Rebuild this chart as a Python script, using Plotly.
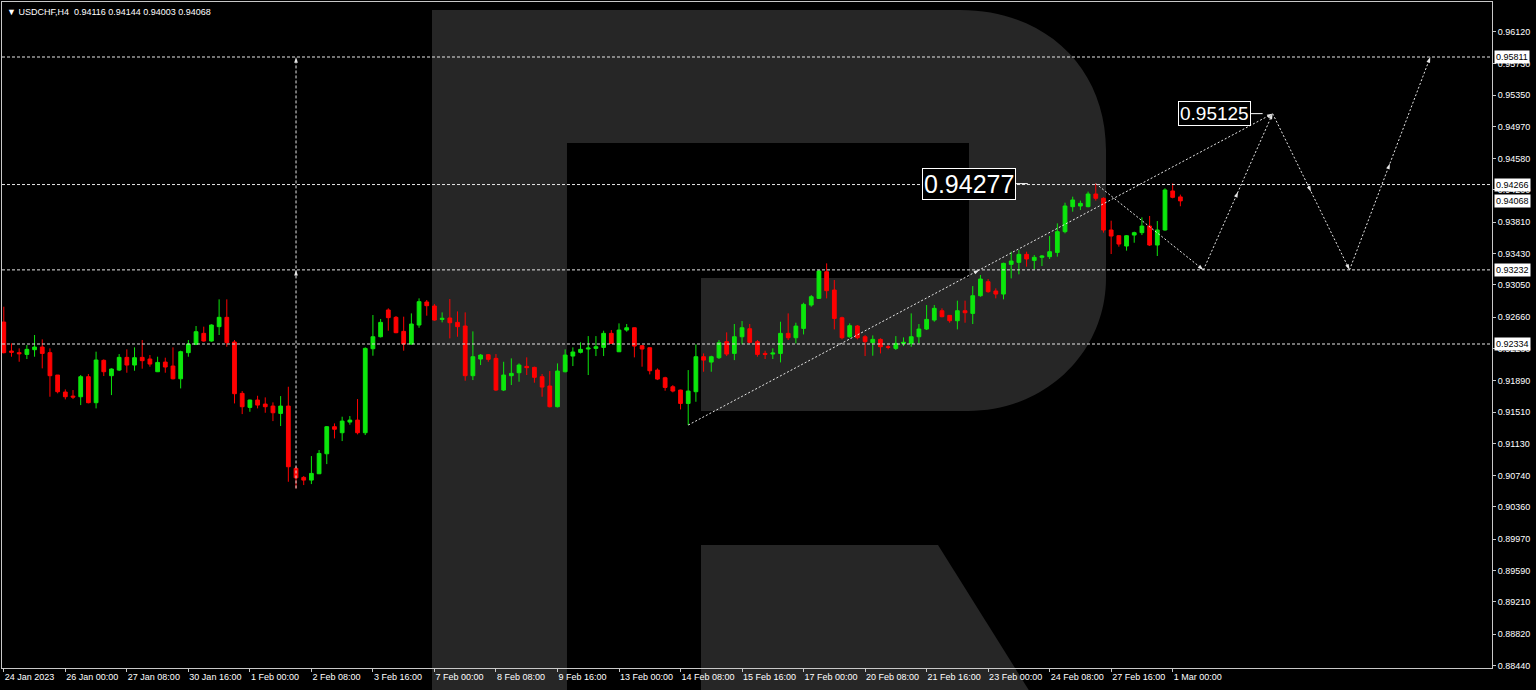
import plotly.graph_objects as go

# ---------------- data (USDCHF H4) ----------------
open_ = [0.92600, 0.92249, 0.92229, 0.92208, 0.92265, 0.92297, 0.92229, 0.91958, 0.91752, 0.91703,
         0.91695, 0.91938, 0.91623, 0.92136, 0.91950, 0.92018, 0.92172, 0.92079, 0.92172, 0.92152,
         0.91998, 0.92115, 0.92067, 0.91913, 0.92229, 0.92329, 0.92463, 0.92370, 0.92544, 0.92657,
         0.92358, 0.91736, 0.91566, 0.91655, 0.91606, 0.91582, 0.91493, 0.91582, 0.90827, 0.90718,
         0.90685, 0.90762, 0.91004, 0.91332, 0.91259, 0.91388, 0.91412, 0.91259, 0.92277, 0.92422,
         0.92746, 0.92657, 0.92487, 0.92333, 0.92564, 0.92843, 0.92794, 0.92632, 0.92649, 0.92596,
         0.92552, 0.91950, 0.92152, 0.92204, 0.92160, 0.91776, 0.91950, 0.91986, 0.92063, 0.92051,
         0.91938, 0.91825, 0.91574, 0.91998, 0.92188, 0.92233, 0.92273, 0.92281, 0.92293, 0.92463,
         0.92240, 0.92503, 0.92531, 0.92313, 0.92289, 0.92018, 0.91925, 0.91816, 0.91776, 0.91614,
         0.91756, 0.92180, 0.92115, 0.92168, 0.92362, 0.92220, 0.92422, 0.92519, 0.92362, 0.92220,
         0.92212, 0.92220, 0.92463, 0.92410, 0.92523, 0.92806, 0.92887, 0.93210, 0.92988, 0.92652,
         0.92422, 0.92552, 0.92422, 0.92349, 0.92390, 0.92301, 0.92281, 0.92341, 0.92341, 0.92422,
         0.92515, 0.92624, 0.92737, 0.92681, 0.92616, 0.92737, 0.92705, 0.92919, 0.93089, 0.92976,
         0.92939, 0.93299, 0.93323, 0.93420, 0.93347, 0.93384, 0.93392, 0.93444, 0.93695, 0.93998,
         0.94006, 0.93998, 0.94151, 0.94099, 0.93715, 0.93646, 0.93521, 0.93654, 0.93683, 0.93763,
         0.93533, 0.93715, 0.94188, 0.94116]
high = [0.92786, 0.92342, 0.92281, 0.92321, 0.92443, 0.92390, 0.92281, 0.91958, 0.91784, 0.91776,
        0.91958, 0.91970, 0.92241, 0.92148, 0.92039, 0.92212, 0.92269, 0.92293, 0.92382, 0.92200,
        0.92180, 0.92168, 0.92293, 0.92253, 0.92382, 0.92552, 0.92544, 0.92572, 0.92875, 0.92875,
        0.92382, 0.91764, 0.91660, 0.91707, 0.91687, 0.91627, 0.91703, 0.91816, 0.90847, 0.90734,
        0.90976, 0.91049, 0.91340, 0.91372, 0.91453, 0.91461, 0.91667, 0.92293, 0.92685, 0.92637,
        0.92766, 0.92673, 0.92665, 0.92705, 0.92887, 0.92867, 0.92818, 0.92717, 0.92879, 0.92729,
        0.92717, 0.92487, 0.92212, 0.92212, 0.92212, 0.92119, 0.92160, 0.92099, 0.92172, 0.92059,
        0.91970, 0.92006, 0.92099, 0.92269, 0.92293, 0.92354, 0.92430, 0.92430, 0.92495, 0.92503,
        0.92584, 0.92576, 0.92535, 0.92321, 0.92293, 0.92038, 0.91937, 0.91836, 0.91780, 0.92018,
        0.92329, 0.92220, 0.92192, 0.92382, 0.92475, 0.92576, 0.92612, 0.92576, 0.92382, 0.92253,
        0.92281, 0.92604, 0.92705, 0.92592, 0.92834, 0.92927, 0.93230, 0.93311, 0.93109, 0.92665,
        0.92584, 0.92564, 0.92442, 0.92438, 0.92402, 0.92321, 0.92430, 0.92414, 0.92705, 0.92576,
        0.92806, 0.92806, 0.92766, 0.92685, 0.92859, 0.92859, 0.93036, 0.93170, 0.93121, 0.93008,
        0.93319, 0.93452, 0.93473, 0.93452, 0.93412, 0.93412, 0.93642, 0.93796, 0.94046, 0.94119,
        0.94071, 0.94180, 0.94277, 0.94111, 0.93828, 0.93654, 0.93654, 0.93695, 0.93868, 0.93885,
        0.93824, 0.94220, 0.94281, 0.94144]
low = [0.92220, 0.92180, 0.92119, 0.92152, 0.92180, 0.92039, 0.91695, 0.91736, 0.91663, 0.91667,
       0.91594, 0.91615, 0.91554, 0.91946, 0.91715, 0.92006, 0.91986, 0.92010, 0.92035, 0.92059,
       0.91994, 0.91986, 0.91905, 0.91796, 0.92180, 0.92321, 0.92362, 0.92362, 0.92443, 0.92301,
       0.91614, 0.91485, 0.91513, 0.91554, 0.91501, 0.91400, 0.91340, 0.90665, 0.90584, 0.90625,
       0.90637, 0.90758, 0.90879, 0.91190, 0.91158, 0.91356, 0.91239, 0.91231, 0.92192, 0.92414,
       0.92495, 0.92465, 0.92253, 0.92325, 0.92531, 0.92677, 0.92616, 0.92596, 0.92402, 0.92422,
       0.91889, 0.91897, 0.92079, 0.92119, 0.91764, 0.91764, 0.91837, 0.91877, 0.91958, 0.91865,
       0.91695, 0.91566, 0.91566, 0.91990, 0.92067, 0.92220, 0.91958, 0.92188, 0.92188, 0.92335,
       0.92236, 0.92483, 0.92172, 0.92059, 0.91966, 0.91897, 0.91768, 0.91748, 0.91541, 0.91352,
       0.91634, 0.91998, 0.91998, 0.92152, 0.92188, 0.92139, 0.92329, 0.92341, 0.92180, 0.92152,
       0.92152, 0.92111, 0.92382, 0.92341, 0.92450, 0.92786, 0.92879, 0.92887, 0.92511, 0.92390,
       0.92410, 0.92390, 0.92188, 0.92192, 0.92220, 0.92269, 0.92261, 0.92309, 0.92301, 0.92341,
       0.92503, 0.92604, 0.92657, 0.92592, 0.92511, 0.92592, 0.92576, 0.92907, 0.92955, 0.92887,
       0.92875, 0.93129, 0.93178, 0.93271, 0.93238, 0.93279, 0.93364, 0.93392, 0.93675, 0.93937,
       0.93957, 0.93990, 0.94071, 0.93683, 0.93424, 0.93513, 0.93465, 0.93561, 0.93654, 0.93521,
       0.93400, 0.93707, 0.94099, 0.94003]
close = [0.92229, 0.92233, 0.92216, 0.92269, 0.92297, 0.92220, 0.91950, 0.91756, 0.91695, 0.91691,
         0.91938, 0.91623, 0.92140, 0.91998, 0.92031, 0.92172, 0.92079, 0.92168, 0.92132, 0.92091,
         0.92111, 0.92055, 0.91913, 0.92241, 0.92333, 0.92483, 0.92370, 0.92564, 0.92657, 0.92350,
         0.91732, 0.91574, 0.91655, 0.91594, 0.91574, 0.91501, 0.91582, 0.90847, 0.90713, 0.90685,
         0.90766, 0.91008, 0.91332, 0.91301, 0.91400, 0.91412, 0.91259, 0.92281, 0.92422, 0.92596,
         0.92653, 0.92471, 0.92333, 0.92576, 0.92847, 0.92798, 0.92624, 0.92645, 0.92592, 0.92544,
         0.91950, 0.92180, 0.92200, 0.92148, 0.91776, 0.91958, 0.91978, 0.92079, 0.92047, 0.91930,
         0.91812, 0.91574, 0.92006, 0.92200, 0.92237, 0.92269, 0.92285, 0.92301, 0.92463, 0.92341,
         0.92503, 0.92531, 0.92309, 0.92273, 0.92010, 0.91909, 0.91808, 0.91764, 0.91614, 0.91764,
         0.92180, 0.92139, 0.92180, 0.92349, 0.92212, 0.92422, 0.92531, 0.92354, 0.92208, 0.92208,
         0.92224, 0.92463, 0.92410, 0.92551, 0.92814, 0.92907, 0.93218, 0.92980, 0.92644, 0.92410,
         0.92556, 0.92410, 0.92362, 0.92390, 0.92301, 0.92293, 0.92341, 0.92354, 0.92422, 0.92515,
         0.92632, 0.92766, 0.92665, 0.92616, 0.92737, 0.92713, 0.92919, 0.93121, 0.92968, 0.92939,
         0.93311, 0.93339, 0.93420, 0.93364, 0.93384, 0.93400, 0.93452, 0.93695, 0.94006, 0.94079,
         0.94038, 0.94151, 0.94099, 0.93715, 0.93642, 0.93545, 0.93646, 0.93683, 0.93763, 0.93533,
         0.93715, 0.94200, 0.94111, 0.94068]

x_tick_labels = ["24 Jan 2023", "26 Jan 00:00", "27 Jan 08:00", "30 Jan 16:00", "1 Feb 00:00",
                 "2 Feb 08:00", "3 Feb 16:00", "7 Feb 00:00", "8 Feb 08:00", "9 Feb 16:00",
                 "13 Feb 00:00", "14 Feb 08:00", "15 Feb 16:00", "17 Feb 00:00", "20 Feb 08:00",
                 "21 Feb 16:00", "23 Feb 00:00", "24 Feb 08:00", "27 Feb 16:00", "1 Mar 00:00"]
bars_per_tick = 8

y_ticks = [0.96120, 0.95730, 0.95350, 0.94970, 0.94580, 0.94200, 0.93810, 0.93430, 0.93050,
           0.92660, 0.92280, 0.91890, 0.91510, 0.91130, 0.90740, 0.90360, 0.89970, 0.89590,
           0.89210, 0.88820, 0.88440]

levels = [0.95811, 0.94266, 0.93232, 0.92334]
current_price = 0.94068

# forecast drawing (bar index, price)
vert_x = [38, 38]
vert_y = [0.90584, 0.95811]
trend_x = [89, 165]
trend_y = [0.91352, 0.95125]
zig_x = [142, 156, 165, 175, 185.5]
zig_y = [0.94277, 0.93232, 0.95125, 0.93232, 0.95811]
label_peak = 0.94277
label_target = 0.95125

title_text = "▼ USDCHF,H4  0.94116 0.94144 0.94003 0.94068"

# ---------------- figure ----------------
W, H = 1536, 690
ML, MR, MT, MB = 2, 44, 2, 22
PW, PH = W - ML - MR, H - MT - MB

UP = "#0ce60c"
DN = "#ff0000"
WH = "#e6e6e6"
FONT = "Liberation Sans"

xs = list(range(len(open_)))

fig = go.Figure()

fig.add_trace(go.Candlestick(
    x=xs, open=open_, high=high, low=low, close=close,
    increasing=dict(line=dict(color=UP, width=1), fillcolor=UP),
    decreasing=dict(line=dict(color=DN, width=1), fillcolor=DN),
    whiskerwidth=0, showlegend=False, hoverinfo="skip"))

arrow_marker = dict(symbol="arrow", size=6, angleref="previous", color=WH)
dash_style = dict(color=WH, width=1, dash="2px,2px")


def with_mid(xv, yv, level=None):
    """Insert a mid-segment point (for MT4-style arrow marks) on each segment."""
    ox, oy = [xv[0]], [yv[0]]
    for k in range(1, len(xv)):
        x0, y0, x1, y1 = xv[k - 1], yv[k - 1], xv[k], yv[k]
        if level is not None and min(y0, y1) < level < max(y0, y1):
            t = (level - y0) / (y1 - y0)
        else:
            t = 0.5
        ox += [x0 + t * (x1 - x0), x1]
        oy += [y0 + t * (y1 - y0), y1]
    return ox, oy


vx, vy = with_mid(vert_x, vert_y, levels[2])
fig.add_trace(go.Scatter(x=vx, y=vy, mode="lines+markers", line=dict(color=WH, width=1, dash="3px,2px"),
                         marker=arrow_marker, showlegend=False, hoverinfo="skip"))
tx, ty = with_mid(trend_x, trend_y, levels[2])
fig.add_trace(go.Scatter(x=tx, y=ty, mode="lines+markers", line=dash_style,
                         marker=arrow_marker, showlegend=False, hoverinfo="skip"))
zx, zy = with_mid(zig_x[1:], zig_y[1:])
fig.add_trace(go.Scatter(x=zig_x[:2], y=zig_y[:2], mode="lines+markers", line=dash_style,
                         marker=arrow_marker, showlegend=False, hoverinfo="skip"))
fig.add_trace(go.Scatter(x=zx, y=zy, mode="lines+markers", line=dash_style,
                         marker=arrow_marker, showlegend=False, hoverinfo="skip"))

# horizontal levels
for lv in levels:
    fig.add_hline(y=lv, line=dict(color=WH, width=1, dash="3px,2px"), layer="above")

# background logo (decorative), pixel -> paper helpers
def px(xp):
    return (xp - ML) / PW

def py(yp):
    return (MT + PH - yp) / PH

def path(points):
    s = ""
    for cmd, pts in points:
        s += cmd + " ".join(f"{px(a):.5f},{py(b):.5f}" for a, b in pts) + " "
    return s + "Z"

logo = "#262626"
body = path([("M", [(432, 10)]), ("L", [(960, 10)]),
             ("C", [(1048, 10), (1106, 70), (1106, 150)]),
             ("L", [(1106, 278)]),
             ("C", [(1106, 352), (1046, 411), (968, 411)]),
             ("L", [(701, 411)]), ("L", [(701, 278)]), ("L", [(969, 278)]),
             ("L", [(969, 143)]), ("L", [(567, 143)]), ("L", [(567, 700)]), ("L", [(432, 700)])])
leg = path([("M", [(701, 545)]), ("L", [(938, 545)]), ("L", [(1035, 700)]), ("L", [(701, 700)])])
for p in (body, leg):
    fig.add_shape(type="path", path=p, xref="paper", yref="paper",
                  fillcolor=logo, line=dict(width=0), layer="below")

# price labels on the chart
fig.add_annotation(x=zig_x[0], y=label_peak, xref="x", yref="y", text=f"{label_peak:.5f}",
                   showarrow=False, xanchor="right", yanchor="middle", xshift=-80,
                   font=dict(family=FONT, size=25, color="white"),
                   bgcolor="black", bordercolor="white", borderwidth=1, borderpad=1)
fig.add_shape(type="line", xref="x", yref="y", xsizemode="pixel", xanchor=zig_x[0],
              x0=-80, x1=-68, y0=label_peak, y1=label_peak, line=dict(color="white", width=1))
fig.add_annotation(x=zig_x[2], y=label_target, xref="x", yref="y", text=f"{label_target:.5f}",
                   showarrow=False, xanchor="right", yanchor="middle", xshift=-22,
                   font=dict(family=FONT, size=19, color="white"),
                   bgcolor="black", bordercolor="white", borderwidth=1, borderpad=1)
fig.add_shape(type="line", xref="x", yref="y", xsizemode="pixel", xanchor=zig_x[2],
              x0=-22, x1=-10, y0=label_target, y1=label_target, line=dict(color="white", width=1))

# right axis boxed labels
for v in levels + [current_price]:
    fig.add_annotation(x=1, y=v, xref="paper", yref="y", text=f"{v:.5f}", showarrow=False,
                       xanchor="left", yanchor="middle", xshift=2,
                       font=dict(family=FONT, size=9, color="black"),
                       bgcolor="white", borderpad=1)

# title
fig.add_annotation(x=0, y=1, xref="paper", yref="paper", text=title_text, showarrow=False,
                   xanchor="left", yanchor="top", xshift=3, yshift=-3,
                   font=dict(family=FONT, size=9, color="white"))

tickvals_x = [i * bars_per_tick for i in range(len(x_tick_labels))]
px_per_bar = 7.69
x0_idx = -(3.8 - ML) / px_per_bar
x_range = [x0_idx, x0_idx + PW / px_per_bar]
y_range = [0.884086, 0.964775]

fig.update_layout(
    width=W, height=H,
    margin=dict(l=ML, r=MR, t=MT, b=MB, pad=0, autoexpand=False),
    paper_bgcolor="black", plot_bgcolor="black",
    showlegend=False,
    xaxis=dict(range=x_range, rangeslider=dict(visible=False), showgrid=False, zeroline=False,
               tickvals=tickvals_x, ticktext=x_tick_labels, ticks="outside", ticklen=3,
               tickcolor="#c8c8c8", ticklabelposition="outside right", tickangle=0,
               automargin=False,
               tickfont=dict(family=FONT, size=9, color="white"),
               showline=True, linecolor="#c8c8c8", linewidth=1, mirror=True, fixedrange=True),
    yaxis=dict(range=y_range, side="right", showgrid=False, zeroline=False,
               tickvals=y_ticks, ticktext=[f"{v:.5f}" for v in y_ticks],
               ticks="outside", ticklen=3, tickcolor="#c8c8c8", automargin=False,
               tickfont=dict(family=FONT, size=9, color="white"),
               showline=True, linecolor="#c8c8c8", linewidth=1, mirror=True, fixedrange=True),
)

fig.write_html("out.html", config={"displayModeBar": False, "staticPlot": True},
               post_script="document.body.style.margin='0';document.body.style.overflow='hidden';")
